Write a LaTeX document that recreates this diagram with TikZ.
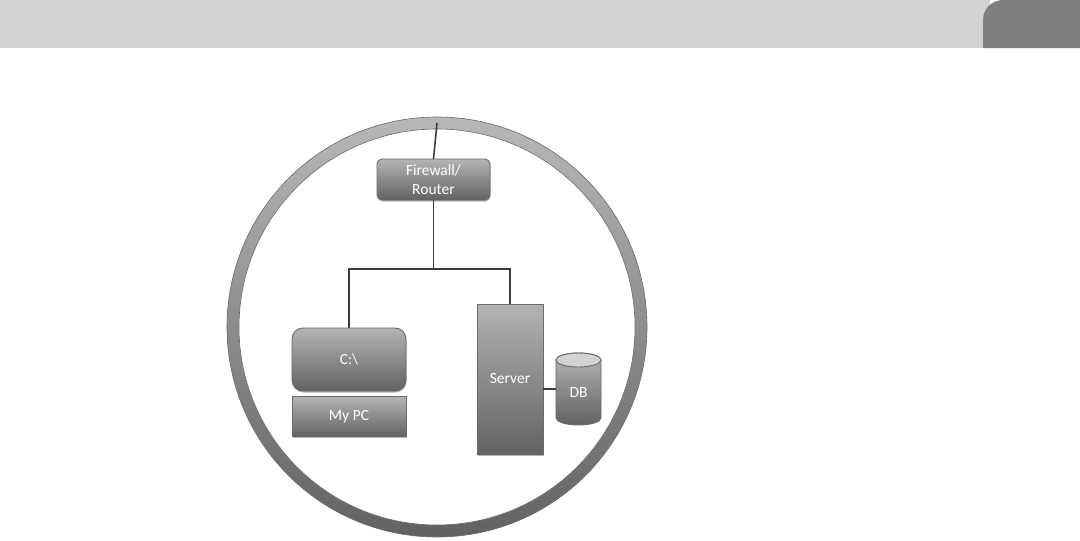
\documentclass[tikz,border=0pt]{standalone}
\usepackage{fontspec}
\setmainfont{Carlito}
\usetikzlibrary{shadows,calc,positioning}
\definecolor{boxtop}{HTML}{B4B4B4}
\definecolor{boxbot}{HTML}{626262}
\definecolor{boxedge}{HTML}{6A6A6A}
\definecolor{wire}{HTML}{3C3C3C}
\definecolor{headbar}{HTML}{D3D3D3}
\definecolor{headtab}{HTML}{7F7D7D}
\tikzset{
  x=1pt,y=-1pt,
  gbox/.style={anchor=north west,inner sep=0pt,outer sep=0pt,draw=boxedge,line width=0.9pt,
    top color=boxtop,bottom color=boxbot,text=white,align=center,font=\fontsize{15.5}{20}\selectfont,
    drop shadow={shadow xshift=0.5pt,shadow yshift=-1.5pt,opacity=0.3,fill=black}},
  wirep/.style={draw=wire,line width=1.6pt},
}
\begin{document}
\begin{tikzpicture}
\useasboundingbox[fill=white] (0,0) rectangle (1080,541);
% header
\fill[headbar] (0,0) rectangle (990,48);
\path (1031.5,24) node[minimum width=97pt,minimum height=48pt,inner sep=0pt,outer sep=0pt] (tab) {};
\fill[headtab] (tab.south west) -- ($(tab.north west)+(0,20)$) arc[start angle=180,end angle=90,x radius=20pt,y radius=20pt] -- (tab.north east) -- (tab.south east) -- cycle;
% ring
\node[circle,minimum size=420pt,inner sep=0pt,outer sep=0pt,top color=boxtop!95!white,bottom color=boxbot,draw=boxedge,line width=0.6pt] (ring) at (437,327) {};
\node[circle,minimum size=396pt,inner sep=0pt,outer sep=0pt,fill=white,draw=boxedge,line width=0.6pt] (inner) at (437,327) {};
% boxes
\node[gbox,rounded corners=5pt,minimum width=113pt,minimum height=41pt] (fw) at (377,159) {Firewall/\\[-1pt]Router};
\node[gbox,rounded corners=11pt,minimum width=114pt,minimum height=63pt] (cbox) at (292,328) {C:\textbackslash};
\node[gbox,minimum width=114pt,minimum height=40pt] (pc) at (292,396.5) {My PC};
\node[gbox,minimum width=66pt,minimum height=150pt] (srv) at (477,304) {Server};
% cylinder
\coordinate (dbtl) at (556,360);
\shade[top color=boxtop,bottom color=boxbot,draw=boxedge,line width=0.9pt]
  (556,360) -- (556,418) arc[start angle=180,end angle=360,x radius=22.5pt,y radius=7pt] -- (601,360) arc[start angle=0,end angle=180,x radius=22.5pt,y radius=7pt] -- cycle;
\draw[boxedge,fill=headbar,line width=0.9pt] (578.5,360) ellipse[x radius=22.5pt,y radius=7pt];
\node[inner sep=0pt,outer sep=0pt,minimum width=45pt,minimum height=58pt,text=white,font=\fontsize{15.5}{20}\selectfont] (db) at (578.5,393) {DB};
% connectors
\coordinate (ringtop) at (fw.north |- inner.north);
\coordinate (bus) at (fw.south |- 0,269);
\draw[wirep] ($(ring.north)!0.5!(inner.north)$ -| fw.north) -- (fw.north);
\draw[wirep] (fw.south) -- (bus);
\draw[wirep] (cbox.north) -- (cbox.north |- bus) -- (srv.north |- bus) -- (srv.north);
\draw[wirep] (srv.east |- 0,389) -- (db.west |- 0,389);
\end{tikzpicture}
\end{document}
